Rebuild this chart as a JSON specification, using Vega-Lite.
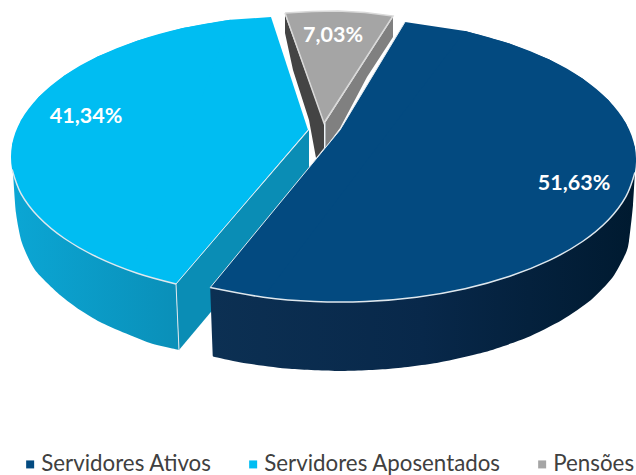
{"$schema":"https://vega.github.io/schema/vega-lite/v6.json","width":636,"height":475,"padding":0,"autosize":"none","background":"white","config":{"view":{"stroke":null}},
"data":{"values":[
{"part":"dt","serie":"Servidores Ativos","ord":0,"u":22,"v":108},{"part":"dt","serie":"Servidores Ativos","ord":1,"u":87,"v":216},{"part":"dt","serie":"Servidores Ativos","ord":2,"u":147,"v":207},{"part":"dt","serie":"Servidores Ativos","ord":3,"u":192,"v":194.3},{"part":"dt","serie":"Servidores Ativos","ord":4,"u":231.3,"v":178.4},{"part":"dt","serie":"Servidores Ativos","ord":5,"u":264.5,"v":159.5},{"part":"dt","serie":"Servidores Ativos","ord":6,"u":290.3,"v":138},{"part":"dt","serie":"Servidores Ativos","ord":7,"u":307.9,"v":114.7},{"part":"dt","serie":"Servidores Ativos","ord":8,"u":316.9,"v":90.4},
{"part":"dt","serie":"Servidores Ativos","ord":9,"u":316.9,"v":65.6,"rim":true},{"part":"dt","serie":"Servidores Ativos","ord":10,"u":307.9,"v":41.3,"rim":true},{"part":"dt","serie":"Servidores Ativos","ord":11,"u":290.3,"v":18,"rim":true},{"part":"dt","serie":"Servidores Ativos","ord":12,"u":264.5,"v":-3.5,"rim":true},{"part":"dt","serie":"Servidores Ativos","ord":13,"u":231.3,"v":-22.4,"rim":true},{"part":"dt","serie":"Servidores Ativos","ord":14,"u":191.8,"v":-38.3,"rim":true},{"part":"dt","serie":"Servidores Ativos","ord":15,"u":147.1,"v":-50.7,"rim":true},{"part":"dt","serie":"Servidores Ativos","ord":16,"u":98.6,"v":-59.2,"rim":true},{"part":"dt","serie":"Servidores Ativos","ord":17,"u":47.8,"v":-63.5,"rim":true},{"part":"dt","serie":"Servidores Ativos","ord":18,"u":-3.8,"v":-63.5,"rim":true},{"part":"dt","serie":"Servidores Ativos","ord":19,"u":-54.6,"v":-59.2,"rim":true},{"part":"dt","serie":"Servidores Ativos","ord":20,"u":-107.8,"v":-49.6,"rim":true},
{"part":"ds","ord":0,"u":316.9,"v":65.6},{"part":"ds","ord":1,"u":315,"v":33},{"part":"ds","ord":2,"u":311,"v":-3},{"part":"ds","ord":3,"u":307.6,"v":-15.7},{"part":"ds","ord":4,"u":294.5,"v":-39.6},{"part":"ds","ord":5,"u":273,"v":-62},{"part":"ds","ord":6,"u":244,"v":-82},{"part":"ds","ord":7,"u":208.4,"v":-99.8},{"part":"ds","ord":8,"u":167,"v":-114},{"part":"ds","ord":9,"u":121,"v":-124.5},{"part":"ds","ord":10,"u":72.4,"v":-130.8},{"part":"ds","ord":11,"u":22,"v":-133},{"part":"ds","ord":12,"u":-28.4,"v":-130.8},{"part":"ds","ord":13,"u":-77.2,"v":-124.5},{"part":"ds","ord":14,"u":-105,"v":-118.6},{"part":"ds","ord":15,"u":-105,"v":-118.6},{"part":"ds","ord":16,"u":-105,"v":-118.6},{"part":"ds","ord":17,"u":-107.8,"v":-49.6},
{"part":"lt","serie":"Servidores Aposentados","ord":0,"u":-10,"v":108},{"part":"lt","serie":"Servidores Aposentados","ord":1,"u":-47,"v":221},{"part":"lt","serie":"Servidores Aposentados","ord":2,"u":-87.6,"v":218.2},{"part":"lt","serie":"Servidores Aposentados","ord":3,"u":-136.1,"v":209.7},{"part":"lt","serie":"Servidores Aposentados","ord":4,"u":-180.8,"v":197.3},{"part":"lt","serie":"Servidores Aposentados","ord":5,"u":-220.3,"v":181.4},{"part":"lt","serie":"Servidores Aposentados","ord":6,"u":-253.5,"v":162.5},{"part":"lt","serie":"Servidores Aposentados","ord":7,"u":-279.3,"v":141},{"part":"lt","serie":"Servidores Aposentados","ord":8,"u":-296.9,"v":117.7},{"part":"lt","serie":"Servidores Aposentados","ord":9,"u":-305.9,"v":93.4},
{"part":"lt","serie":"Servidores Aposentados","ord":10,"u":-305.9,"v":68.6,"rim":true},{"part":"lt","serie":"Servidores Aposentados","ord":11,"u":-296.9,"v":44.2,"rim":true},{"part":"lt","serie":"Servidores Aposentados","ord":12,"u":-279.3,"v":21,"rim":true},{"part":"lt","serie":"Servidores Aposentados","ord":13,"u":-253.5,"v":-0.5,"rim":true},{"part":"lt","serie":"Servidores Aposentados","ord":14,"u":-220.3,"v":-19.4,"rim":true},{"part":"lt","serie":"Servidores Aposentados","ord":15,"u":-180.8,"v":-35.3,"rim":true},{"part":"lt","serie":"Servidores Aposentados","ord":16,"u":-142,"v":-46,"rim":true},
{"part":"ls","ord":0,"u":-305,"v":66},{"part":"ls","ord":1,"u":-302,"v":25},{"part":"ls","ord":2,"u":-296,"v":-5},{"part":"ls","ord":3,"u":-283,"v":-32},{"part":"ls","ord":4,"u":-258,"v":-57},{"part":"ls","ord":5,"u":-238,"v":-72},{"part":"ls","ord":6,"u":-218,"v":-84},{"part":"ls","ord":7,"u":-198,"v":-93},{"part":"ls","ord":8,"u":-168,"v":-105},{"part":"ls","ord":9,"u":-139,"v":-112},{"part":"ls","ord":10,"u":-139,"v":-112},{"part":"ls","ord":11,"u":-139,"v":-112},{"part":"ls","ord":12,"u":-142,"v":-46},
{"part":"lw","ord":0,"u":-142,"v":-46},{"part":"lw","ord":1,"u":-139,"v":-112},{"part":"lw","ord":2,"u":-9,"v":43},{"part":"lw","ord":3,"u":-9,"v":108},
{"part":"gt","serie":"Pensões","ord":0,"u":-33,"v":225},{"part":"gt","serie":"Pensões","ord":1,"u":-6,"v":226.5},{"part":"gt","serie":"Pensões","ord":2,"u":20,"v":227},{"part":"gt","serie":"Pensões","ord":3,"u":47,"v":225.5},{"part":"gt","serie":"Pensões","ord":4,"u":75,"v":222},{"part":"gt","serie":"Pensões","ord":5,"u":6,"v":115},{"part":"gt","serie":"Pensões","ord":6,"u":-33,"v":225},
{"part":"gl","ord":0,"u":-33,"v":223},{"part":"gl","ord":1,"u":-33,"v":205},{"part":"gl","ord":2,"u":-25,"v":168},{"part":"gl","ord":3,"u":-9,"v":118},{"part":"gl","ord":4,"u":-2,"v":80},{"part":"gl","ord":5,"u":6,"v":90},{"part":"gl","ord":6,"u":6,"v":115},
{"part":"gr","ord":0,"u":75,"v":221},{"part":"gr","ord":1,"u":75,"v":201},{"part":"gr","ord":2,"u":49,"v":161},{"part":"gr","ord":3,"u":22,"v":110},{"part":"gr","ord":4,"u":7,"v":90},{"part":"gr","ord":5,"u":7,"v":115},
{"part":"e1","ord":0,"u":-107.8,"v":-49.6,"edge":true},{"part":"e1","ord":1,"u":22,"v":108,"edge":true},{"part":"e1","ord":2,"u":87,"v":216,"edge":true},
{"part":"e2","ord":0,"u":-142,"v":-46,"edge":true},{"part":"e2","ord":1,"u":-10,"v":108,"edge":true},
{"part":"e3","ord":0,"u":-142,"v":-46,"edge":true},{"part":"e3","ord":1,"u":-139,"v":-112,"edge":true},
{"part":"e4","ord":0,"u":7,"v":115,"edge":true},{"part":"e4","ord":1,"u":7,"v":90,"edge":true},
{"part":"label","serie":"Servidores Ativos","share":"51,63%","u":256,"v":54},
{"part":"label","serie":"Servidores Aposentados","share":"41,34%","u":-232,"v":121},
{"part":"label","serie":"Pensões","share":"7,03%","u":15,"v":202}
]},
"encoding":{
"x":{"field":"u","type":"quantitative","scale":{"domain":[-318,318]},"axis":null},
"y":{"field":"v","type":"quantitative","scale":{"domain":[-237,238]},"axis":null},
"order":{"field":"ord","type":"quantitative"}},
"layer":[
{"transform":[{"filter":"datum.part==='ls'"}],"mark":{"type":"line","filled":true,"strokeWidth":0,"interpolate":"cardinal","tension":0.3,"fill":{"gradient":"linear","x1":0,"x2":1,"y1":0,"y2":0,"stops":[{"offset":0,"color":"#0ba6d4"},{"offset":1,"color":"#0a8fb8"}]}}},
{"transform":[{"filter":"datum.part==='lw'"}],"mark":{"type":"line","filled":true,"strokeWidth":0,"fill":"#0a8db5"}},
{"transform":[{"filter":"datum.part==='lt'"}],"mark":{"type":"line","filled":true,"strokeWidth":0},"encoding":{"color":{"field":"serie","type":"nominal","scale":{"domain":["Servidores Ativos","Servidores Aposentados","Pensões"],"range":["#034a80","#00bdf2","#a5a5a5"]},"legend":{"orient":"none","legendX":19,"legendY":453,"padding":0,"direction":"horizontal","columns":3,"title":null,"symbolType":"square","symbolSize":64,"symbolStrokeWidth":0,"labelFont":"Lato","labelFontSize":22.3,"labelLimit":300,"labelOffset":0,"labelColor":"#404040","columnPadding":30}}}},
{"transform":[{"filter":"datum.part==='lt'&&datum.ord>=2&&datum.ord<=15"}],"mark":{"type":"line","filled":true,"strokeWidth":0,"interpolate":"cardinal","fill":"#00bdf2"}},
{"transform":[{"filter":"datum.part==='gl'"}],"mark":{"type":"line","filled":true,"strokeWidth":0,"fill":"#444444"}},
{"transform":[{"filter":"datum.part==='gr'"}],"mark":{"type":"line","filled":true,"strokeWidth":0,"fill":"#808080"}},
{"transform":[{"filter":"datum.part==='gt'"}],"mark":{"type":"line","filled":true,"stroke":"#d9d9d9","strokeWidth":1.5},"encoding":{"color":{"field":"serie","type":"nominal"}}},
{"transform":[{"filter":"datum.part==='ds'"}],"mark":{"type":"line","filled":true,"strokeWidth":0,"interpolate":"cardinal","tension":0.3,"fill":{"gradient":"linear","x1":0,"x2":1,"y1":0,"y2":0,"stops":[{"offset":0,"color":"#0c3053"},{"offset":0.5,"color":"#08284a"},{"offset":1,"color":"#001a30"}]}}},
{"transform":[{"filter":"datum.part==='dt'"}],"mark":{"type":"line","filled":true,"strokeWidth":0},"encoding":{"color":{"field":"serie","type":"nominal"}}},
{"transform":[{"filter":"datum.part==='dt'&&datum.ord>=2&&datum.ord<=19"}],"mark":{"type":"line","filled":true,"strokeWidth":0,"interpolate":"cardinal","fill":"#034a80"}},
{"transform":[{"filter":"datum.rim===true"}],"mark":{"type":"line","stroke":"#dfe8ee","strokeWidth":1.5,"interpolate":"cardinal"},"encoding":{"detail":{"field":"part"}}},
{"transform":[{"filter":"datum.edge===true"}],"mark":{"type":"line","stroke":"#dfe8ee","strokeWidth":1},"encoding":{"detail":{"field":"part"}}},
{"transform":[{"filter":"datum.part==='label'"}],"mark":{"type":"text","font":"Lato","fontWeight":"bold","fontSize":21.5,"color":"white"},"encoding":{"text":{"field":"share"}}}
]}
